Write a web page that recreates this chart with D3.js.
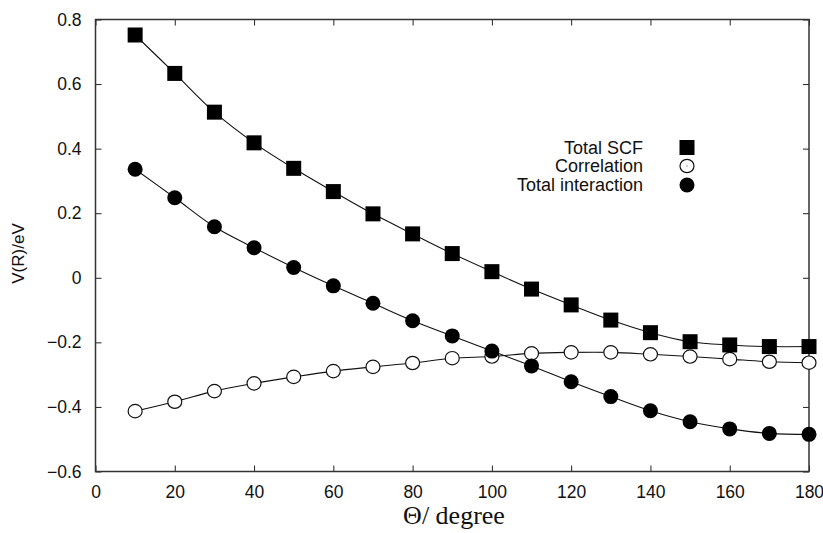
<!DOCTYPE html>
<html>
<head>
<meta charset="utf-8">
<script src="https://cdn.jsdelivr.net/npm/d3@7"></script>
<style>
  html, body { margin: 0; padding: 0; background: #fff; }
  svg { display: block; }
</style>
</head>
<body>
<svg id="chart" width="823" height="533"></svg>
<script>
// Scattering angle (degrees)
const angles = [10, 20, 30, 40, 50, 60, 70, 80, 90, 100, 110, 120, 130, 140, 150, 160, 170, 180];

// Interaction energy components V(R) in eV
const totalSCF = [0.752, 0.633, 0.513, 0.418, 0.339, 0.267, 0.198, 0.136, 0.075, 0.019,
                  -0.035, -0.084, -0.131, -0.170, -0.198, -0.208, -0.213, -0.213];
const correlation = [-0.413, -0.384, -0.351, -0.327, -0.307, -0.289, -0.276, -0.264, -0.249, -0.244,
                     -0.234, -0.231, -0.231, -0.237, -0.244, -0.252, -0.260, -0.263];
const totalInteraction = [0.336, 0.248, 0.158, 0.093, 0.032, -0.025, -0.079, -0.133, -0.180, -0.227,
                          -0.273, -0.322, -0.368, -0.412, -0.446, -0.468, -0.482, -0.485];

const xTicks = [0, 20, 40, 60, 80, 100, 120, 140, 160, 180];
const yTicks = [-0.6, -0.4, -0.2, 0, 0.2, 0.4, 0.6, 0.8];

const seriesNames = ["Total SCF", "Correlation", "Total interaction"];

const svg = d3.select("#chart");
const plotLeft = 95.5, plotRight = 809, plotTop = 19.5, plotBottom = 471.5;

const x = d3.scaleLinear().domain([0, 180]).range([plotLeft, plotRight]);
const y = d3.scaleLinear().domain([-0.6, 0.8]).range([plotBottom, plotTop]);

const fmt = v => {
  if (Math.abs(v) < 1e-9) return "0";
  const s = d3.format(".1f")(Math.abs(v));
  return (v < 0 ? "\u2212" : "") + s;
};

const tickLen = 6;
const axisFont = "'Liberation Sans', Arial, Helvetica, sans-serif";

// Axes with inward ticks on all four sides
const bottomAxis = d3.axisBottom(x).tickValues(xTicks).tickSizeInner(-tickLen).tickSizeOuter(0).tickPadding(14).tickFormat(d3.format("d"));
const topAxis = d3.axisTop(x).tickValues(xTicks).tickSizeInner(-tickLen).tickSizeOuter(0).tickFormat("");
const leftAxis = d3.axisLeft(y).tickValues(yTicks).tickSizeInner(-tickLen).tickSizeOuter(0).tickPadding(14).tickFormat(fmt);
const rightAxis = d3.axisRight(y).tickValues(yTicks).tickSizeInner(-tickLen).tickSizeOuter(0).tickFormat("");

function styleAxis(g) {
  g.select(".domain").remove();
  g.selectAll(".tick line").attr("stroke", "#222").attr("stroke-width", 1);
  g.selectAll(".tick text").attr("fill", "#111").style("font-family", axisFont).style("font-size", "17.5px");
}

svg.append("g").attr("transform", `translate(0,${plotBottom})`).call(bottomAxis).call(styleAxis);
svg.append("g").attr("transform", `translate(0,${plotTop})`).call(topAxis).call(styleAxis);
svg.append("g").attr("transform", `translate(${plotLeft},0)`).call(leftAxis).call(styleAxis);
svg.append("g").attr("transform", `translate(${plotRight},0)`).call(rightAxis).call(styleAxis);

// Plot frame
svg.append("rect")
  .attr("x", plotLeft).attr("y", plotTop)
  .attr("width", plotRight - plotLeft).attr("height", plotBottom - plotTop)
  .attr("fill", "none").attr("stroke", "#333").attr("stroke-width", 1.5);

// Fitted curves through each series
const line = d3.line().x(d => x(d[0])).y(d => y(d[1])).curve(d3.curveCatmullRom.alpha(0.5));
const allSeries = [totalSCF, correlation, totalInteraction];
allSeries.forEach(vals => {
  svg.append("path")
    .datum(angles.map((a, i) => [a, vals[i]]))
    .attr("d", line)
    .attr("fill", "none")
    .attr("stroke", "#111")
    .attr("stroke-width", 1.1);
});

const sq = 15, rad = 7.5;

function drawSquare(g, cx, cy) {
  g.append("rect").attr("x", cx - sq / 2).attr("y", cy - sq / 2)
    .attr("width", sq).attr("height", sq).attr("fill", "#000");
}
function drawOpen(g, cx, cy) {
  g.append("ellipse").attr("cx", cx).attr("cy", cy).attr("rx", rad - 0.5).attr("ry", rad - 0.8)
    .attr("fill", "#fff").attr("stroke", "#111").attr("stroke-width", 1.2);
}
function drawFilled(g, cx, cy) {
  g.append("circle").attr("cx", cx).attr("cy", cy).attr("r", rad).attr("fill", "#000");
}

const markers = svg.append("g");
angles.forEach((a, i) => drawOpen(markers, x(a), y(correlation[i])));
angles.forEach((a, i) => drawSquare(markers, x(a), y(totalSCF[i])));
angles.forEach((a, i) => drawFilled(markers, x(a), y(totalInteraction[i])));

// Legend
const legend = svg.append("g");
const legendX = 643, legendMarkX = 687, legendY = [147.5, 166, 185];
const drawers = [drawSquare, drawOpen, drawFilled];
seriesNames.forEach((name, i) => {
  legend.append("text")
    .attr("x", legendX).attr("y", legendY[i])
    .attr("dy", "0.35em")
    .attr("text-anchor", "end")
    .style("font-family", axisFont).style("font-size", "18px")
    .attr("fill", "#111")
    .text(name);
  drawers[i](legend, legendMarkX, legendY[i]);
});
legend.append("circle").attr("cx", legendMarkX).attr("cy", legendY[1]).attr("r", 0.6).attr("fill", "#333");

// Axis titles
svg.append("text")
  .attr("transform", `translate(24,${(plotTop + plotBottom) / 2 + 8}) rotate(-90)`)
  .attr("text-anchor", "middle")
  .style("font-family", axisFont).style("font-size", "17px")
  .attr("fill", "#111")
  .text("V(R)/eV");

svg.append("text")
  .attr("x", 454).attr("y", 524)
  .attr("text-anchor", "middle")
  .style("font-family", "'Liberation Serif', 'Times New Roman', serif").style("font-size", "26px")
  .attr("fill", "#111")
  .text("\u0398/ degree");
</script>
</body>
</html>
